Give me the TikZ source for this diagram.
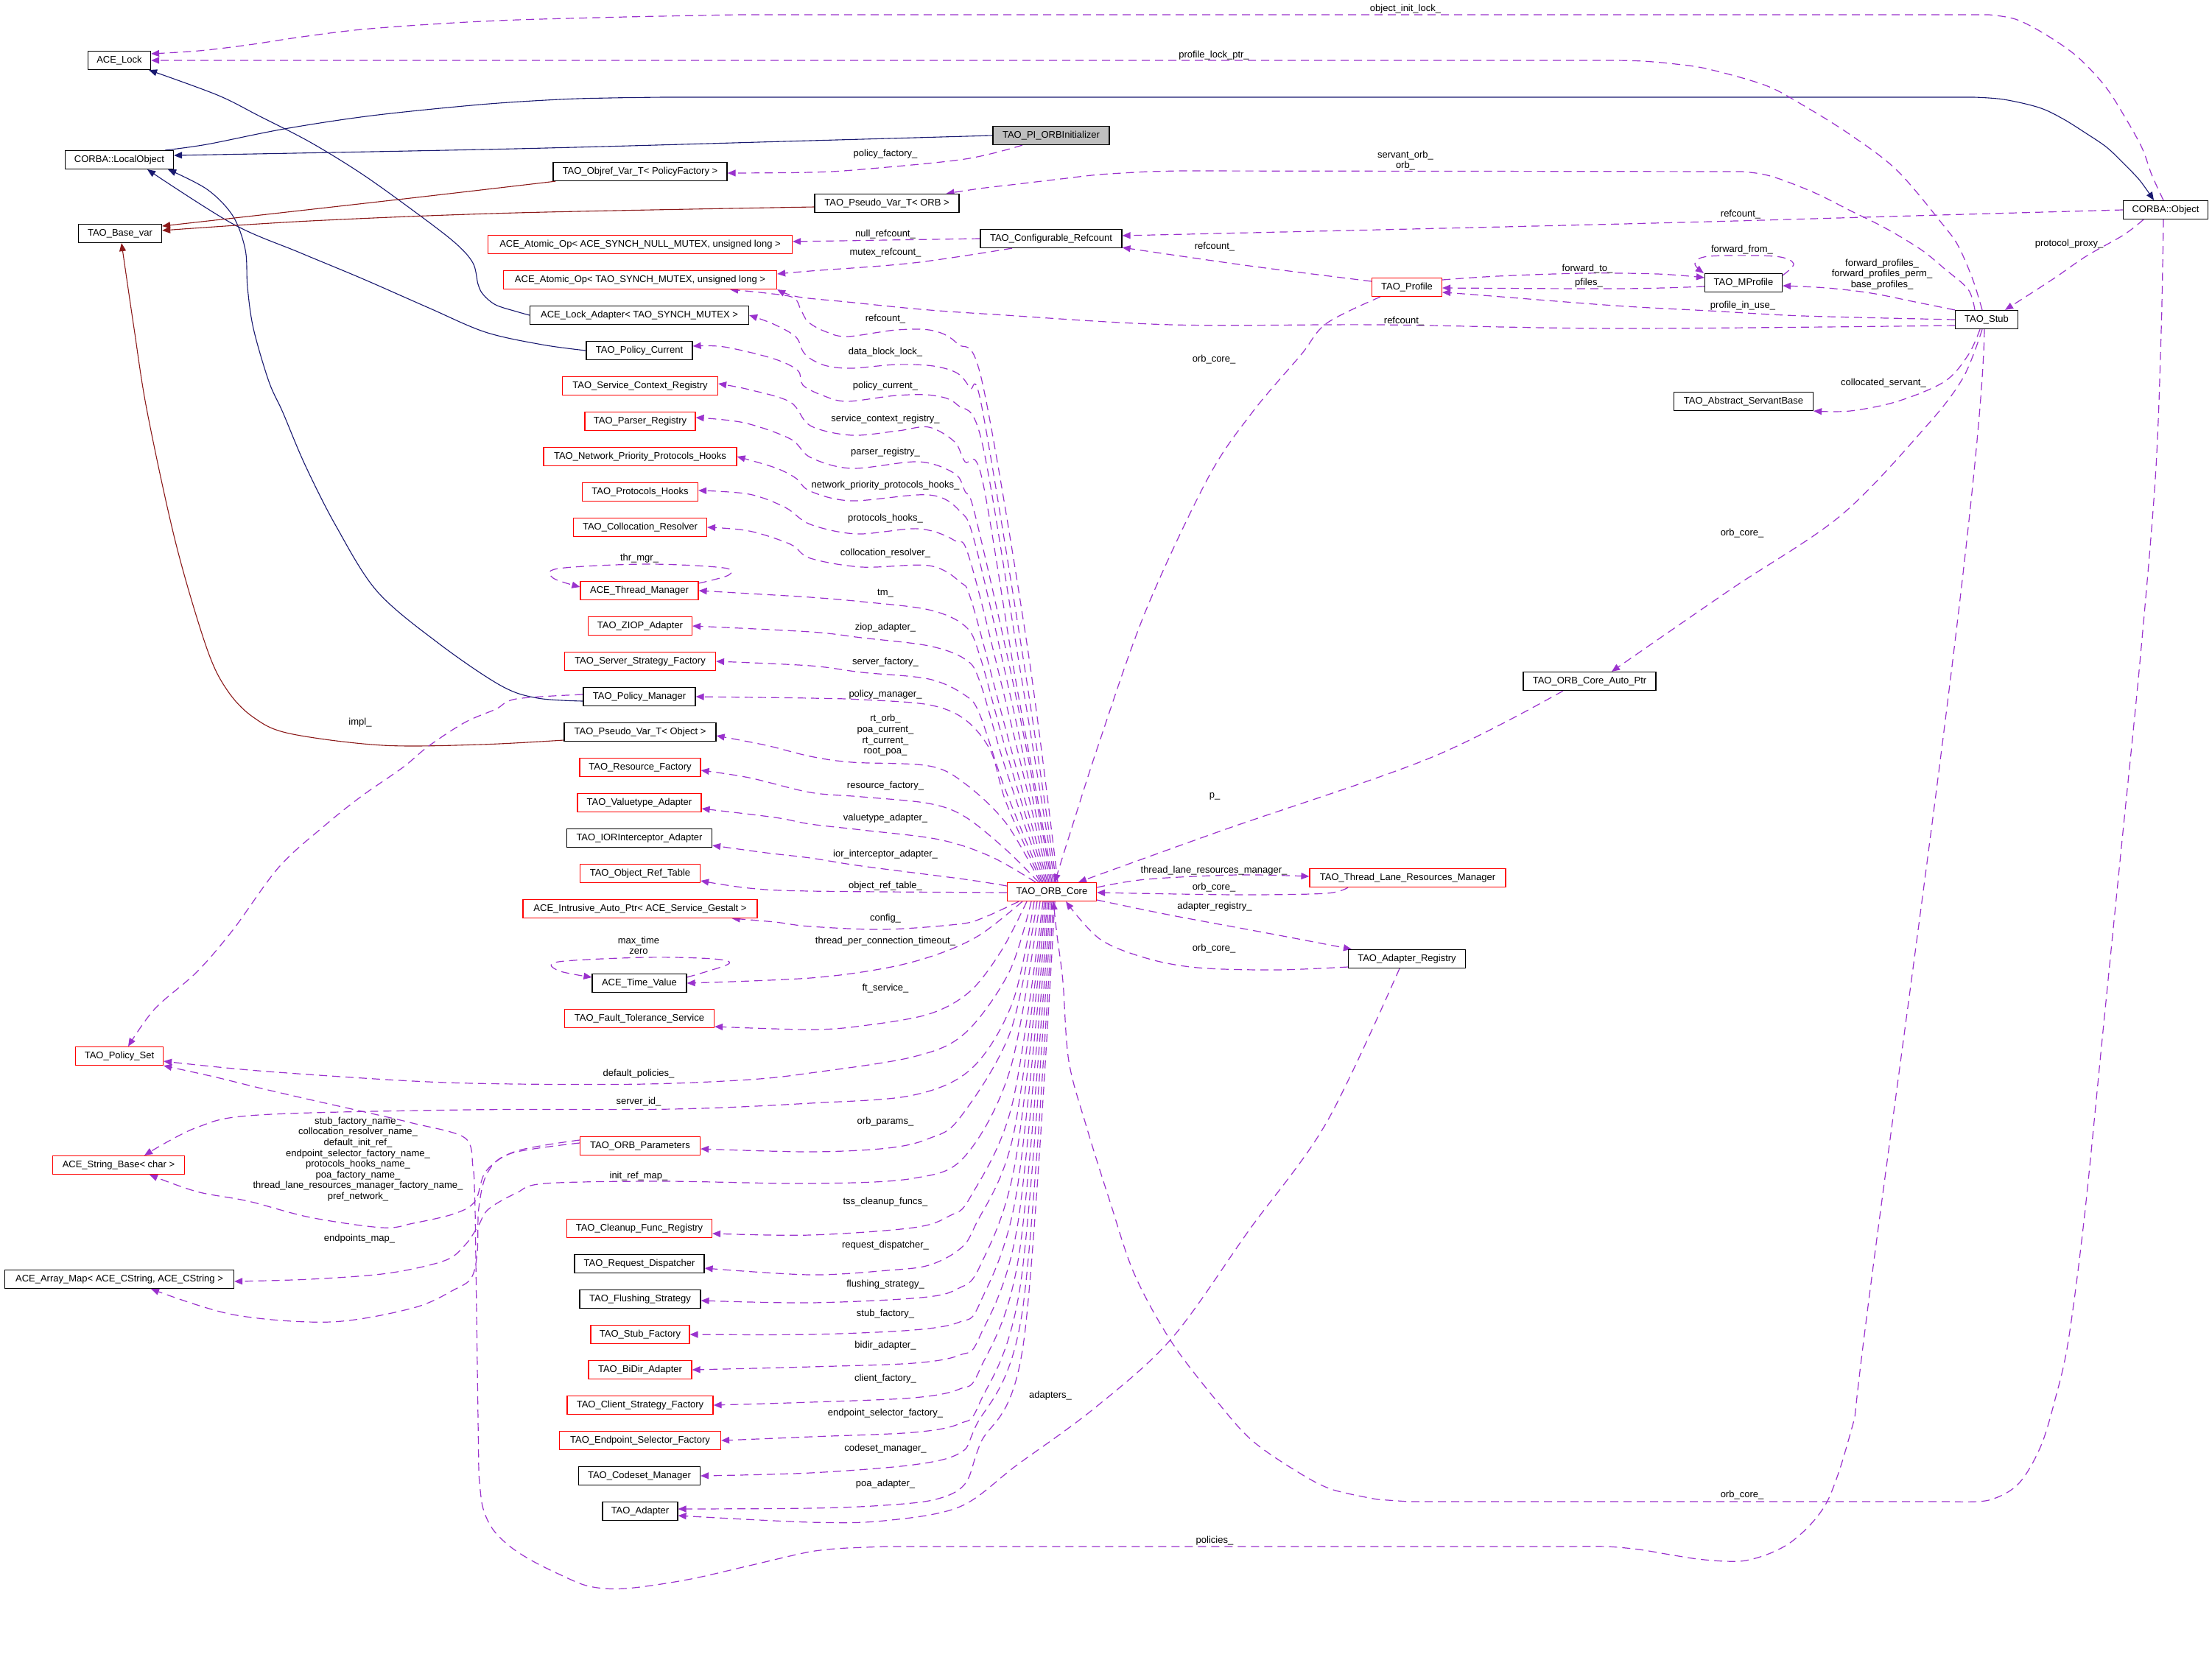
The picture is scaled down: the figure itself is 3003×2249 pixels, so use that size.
\documentclass[tikz,border=0pt]{standalone}
\usepackage{fontspec}
\newfontfamily\dxf{Liberation Sans}
\newcommand\dxs{\dxf\fontsize{13}{14.6}\selectfont}
\usetikzlibrary{arrows.meta}
\definecolor{dpurple}{HTML}{9A32CD}
\definecolor{dnavy}{HTML}{191970}
\definecolor{dred}{HTML}{8B1A1A}
\definecolor{dgray}{HTML}{BFBFBF}
\pgfdeclarelayer{bg}
\pgfsetlayers{bg,main}
\begin{document}
\begin{tikzpicture}[x=1pt,y=-1pt,
  cls/.style={draw=black, line width=1.2pt, minimum height=25pt, inner sep=0pt, font=\dxs, fill=white},
  rcls/.style={cls, draw=red},
  lab/.style={font=\dxs, inner sep=0pt, align=center},
  use/.style={draw=dpurple, line width=1.2pt, dash pattern=on 11pt off 7pt, -{Triangle[length=11pt,width=9pt]}},
  inh/.style={draw=dnavy, line width=1.1pt, -{Triangle[length=11pt,width=9pt]}},
  tpl/.style={draw=dred, line width=1.1pt, -{Triangle[length=11pt,width=9pt]}},
  sm/.style={smooth, tension=0.55}]
\useasboundingbox (0,0) rectangle (3003,2249);
% ---------- nodes ----------
\node[cls,minimum width=85pt] (lock) at (162,82) {ACE\_Lock};
\node[cls,minimum width=147pt] (localobj) at (162,217) {CORBA::LocalObject};
\node[cls,minimum width=113pt] (basevar) at (163,317) {TAO\_Base\_var};
\node[cls,minimum width=236pt] (objref) at (869,233) {TAO\_Objref\_Var\_T< PolicyFactory >};
\node[cls,minimum width=196pt] (pseudoorb) at (1204,276) {TAO\_Pseudo\_Var\_T< ORB >};
\node[rcls,minimum width=413pt] (nullop) at (869,332) {ACE\_Atomic\_Op< ACE\_SYNCH\_NULL\_MUTEX, unsigned long >};
\node[rcls,minimum width=371pt] (mutexop) at (869,380) {ACE\_Atomic\_Op< TAO\_SYNCH\_MUTEX, unsigned long >};
\node[cls,minimum width=297pt] (lockad) at (868,428) {ACE\_Lock\_Adapter< TAO\_SYNCH\_MUTEX >};
\node[cls,minimum width=144pt] (polcur) at (868,476) {TAO\_Policy\_Current};
\node[rcls,minimum width=211pt] (scr) at (869,524) {TAO\_Service\_Context\_Registry};
\node[rcls,minimum width=150pt] (parser) at (869,572) {TAO\_Parser\_Registry};
\node[rcls,minimum width=262pt] (nph) at (869,620) {TAO\_Network\_Priority\_Protocols\_Hooks};
\node[rcls,minimum width=157pt] (ph) at (869,668) {TAO\_Protocols\_Hooks};
\node[rcls,minimum width=181pt] (colres) at (869,716) {TAO\_Collocation\_Resolver};
\node[rcls,minimum width=160pt] (thrmgr) at (868,802) {ACE\_Thread\_Manager};
\node[rcls,minimum width=141pt] (ziop) at (869,850) {TAO\_ZIOP\_Adapter};
\node[rcls,minimum width=205pt] (ssf) at (869,898) {TAO\_Server\_Strategy\_Factory};
\node[cls,minimum width=152pt] (polmgr) at (868,946) {TAO\_Policy\_Manager};
\node[cls,minimum width=206pt] (pseudoobj) at (869,994) {TAO\_Pseudo\_Var\_T< Object >};
\node[rcls,minimum width=164pt] (resf) at (869,1042) {TAO\_Resource\_Factory};
\node[rcls,minimum width=168pt] (valt) at (868,1090) {TAO\_Valuetype\_Adapter};
\node[cls,minimum width=197pt] (ior) at (868,1138) {TAO\_IORInterceptor\_Adapter};
\node[rcls,minimum width=163pt] (ort) at (869,1186) {TAO\_Object\_Ref\_Table};
\node[rcls,minimum width=318pt] (iap) at (869,1234) {ACE\_Intrusive\_Auto\_Ptr< ACE\_Service\_Gestalt >};
\node[cls,minimum width=128pt] (tv) at (868,1335) {ACE\_Time\_Value};
\node[rcls,minimum width=203pt] (fts) at (868,1383) {TAO\_Fault\_Tolerance\_Service};
\node[rcls,minimum width=119pt] (polset) at (162,1434) {TAO\_Policy\_Set};
\node[rcls,minimum width=179pt] (strbase) at (161,1582) {ACE\_String\_Base< char >};
\node[rcls,minimum width=163pt] (orbparams) at (869,1556) {TAO\_ORB\_Parameters};
\node[rcls,minimum width=197pt] (cleanup) at (868,1668) {TAO\_Cleanup\_Func\_Registry};
\node[cls,minimum width=311pt] (arraymap) at (162,1737) {ACE\_Array\_Map< ACE\_CString, ACE\_CString >};
\node[cls,minimum width=176pt] (reqd) at (868,1716) {TAO\_Request\_Dispatcher};
\node[cls,minimum width=164pt] (flush) at (869,1764) {TAO\_Flushing\_Strategy};
\node[rcls,minimum width=134pt] (stubf) at (869,1812) {TAO\_Stub\_Factory};
\node[rcls,minimum width=140pt] (bidir) at (869,1860) {TAO\_BiDir\_Adapter};
\node[rcls,minimum width=198pt] (csf) at (869,1908) {TAO\_Client\_Strategy\_Factory};
\node[rcls,minimum width=219pt] (esf) at (869,1956) {TAO\_Endpoint\_Selector\_Factory};
\node[cls,minimum width=165pt] (codeset) at (868,2004) {TAO\_Codeset\_Manager};
\node[cls,minimum width=102pt] (adapter) at (869,2052) {TAO\_Adapter};
\node[cls,fill=dgray,minimum width=158pt] (pii) at (1427,184) {TAO\_PI\_ORBInitializer};
\node[cls,minimum width=192pt] (cref) at (1427,324) {TAO\_Configurable\_Refcount};
\node[rcls,minimum width=95pt] (profile) at (1910,390) {TAO\_Profile};
\node[cls,minimum width=105pt] (mprofile) at (2367,384) {TAO\_MProfile};
\node[cls,minimum width=115pt] (cobj) at (2940,285) {CORBA::Object};
\node[cls,minimum width=85pt] (stub) at (2697,434) {TAO\_Stub};
\node[cls,minimum width=189pt] (asb) at (2367,545) {TAO\_Abstract\_ServantBase};
\node[cls,minimum width=180pt] (autoptr) at (2158,925) {TAO\_ORB\_Core\_Auto\_Ptr};
\node[rcls,minimum width=121pt] (core) at (1428,1211) {TAO\_ORB\_Core};
\node[rcls,minimum width=266pt] (tlrm) at (1911,1192) {TAO\_Thread\_Lane\_Resources\_Manager};
\node[cls,minimum width=159pt] (areg) at (1910,1302) {TAO\_Adapter\_Registry};
% ---------- labels ----------
\node[lab] (t01) at (1908,12) {object\_init\_lock\_};
\node[lab] (t02) at (1648,75) {profile\_lock\_ptr\_};
\node[lab] (t03) at (1202,209) {policy\_factory\_};
\node[lab] (t04) at (1908,218) {servant\_orb\_\\orb\_};
\node[lab] (t05) at (2363,291) {refcount\_};
\node[lab] (t06) at (1202,318) {null\_refcount\_};
\node[lab] (t07) at (1202,343) {mutex\_refcount\_};
\node[lab] (t08) at (1649,335) {refcount\_};
\node[lab] (t09) at (2809,331) {protocol\_proxy\_};
\node[lab] (t10) at (2365,339) {forward\_from\_};
\node[lab] (t11) at (2155,365) {forward\_to\_};
\node[lab] (t12) at (2157,384) {pfiles\_};
\node[lab] (t13) at (2555,372.5) {forward\_profiles\_\\forward\_profiles\_perm\_\\base\_profiles\_};
\node[lab] (t14) at (2366,415) {profile\_in\_use\_};
\node[lab] (t15) at (1906,436) {refcount\_};
\node[lab] (t16) at (1202,433) {refcount\_};
\node[lab] (t17) at (1202,478) {data\_block\_lock\_};
\node[lab] (t18) at (1648,488) {orb\_core\_};
\node[lab] (t19) at (1202,524) {policy\_current\_};
\node[lab] (t20) at (2557,520) {collocated\_servant\_};
\node[lab] (t21) at (1202,569) {service\_context\_registry\_};
\node[lab] (t22) at (1202,614) {parser\_registry\_};
\node[lab] (t23) at (1202,659) {network\_priority\_protocols\_hooks\_};
\node[lab] (t24) at (1202,704) {protocols\_hooks\_};
\node[lab] (t25) at (2365,724) {orb\_core\_};
\node[lab] (t26) at (1202,751) {collocation\_resolver\_};
\node[lab] (t27) at (868,758) {thr\_mgr\_};
\node[lab] (t28) at (1202,806) {tm\_};
\node[lab] (t29) at (1202,852) {ziop\_adapter\_};
\node[lab] (t30) at (1202,899) {server\_factory\_};
\node[lab] (t31) at (1202,943) {policy\_manager\_};
\node[lab] (t32) at (1202,998.5) {rt\_orb\_\\poa\_current\_\\rt\_current\_\\root\_poa\_};
\node[lab] (t33) at (489,981) {impl\_};
\node[lab] (t34) at (1202,1067) {resource\_factory\_};
\node[lab] (t35) at (1649,1081) {p\_};
\node[lab] (t36) at (1202,1111) {valuetype\_adapter\_};
\node[lab] (t37) at (1202,1160) {ior\_interceptor\_adapter\_};
\node[lab] (t38) at (1648,1182) {thread\_lane\_resources\_manager\_};
\node[lab] (t39) at (1202,1203) {object\_ref\_table\_};
\node[lab] (t40) at (1648,1205) {orb\_core\_};
\node[lab] (t41) at (1649,1231) {adapter\_registry\_};
\node[lab] (t42) at (1202,1247) {config\_};
\node[lab] (t43) at (867,1284) {max\_time\\zero};
\node[lab] (t44) at (1202,1278) {thread\_per\_connection\_timeout\_};
\node[lab] (t45) at (1648,1288) {orb\_core\_};
\node[lab] (t46) at (1202,1342) {ft\_service\_};
\node[lab] (t47) at (867,1458) {default\_policies\_};
\node[lab] (t48) at (867,1496) {server\_id\_};
\node[lab] (t49) at (486,1574) {stub\_factory\_name\_\\collocation\_resolver\_name\_\\default\_init\_ref\_\\endpoint\_selector\_factory\_name\_\\protocols\_hooks\_name\_\\poa\_factory\_name\_\\thread\_lane\_resources\_manager\_factory\_name\_\\pref\_network\_};
\node[lab] (t50) at (1202,1523) {orb\_params\_};
\node[lab] (t51) at (867,1597) {init\_ref\_map\_};
\node[lab] (t52) at (1202,1632) {tss\_cleanup\_funcs\_};
\node[lab] (t53) at (488,1682) {endpoints\_map\_};
\node[lab] (t54) at (1202,1691) {request\_dispatcher\_};
\node[lab] (t55) at (1202,1744) {flushing\_strategy\_};
\node[lab] (t56) at (1202,1784) {stub\_factory\_};
\node[lab] (t57) at (1202,1827) {bidir\_adapter\_};
\node[lab] (t58) at (1202,1872) {client\_factory\_};
\node[lab] (t59) at (1426,1895) {adapters\_};
\node[lab] (t60) at (1202,1919) {endpoint\_selector\_factory\_};
\node[lab] (t61) at (1202,1967) {codeset\_manager\_};
\node[lab] (t62) at (1202,2015) {poa\_adapter\_};
\node[lab] (t63) at (2365,2030) {orb\_core\_};
\node[lab] (t64) at (1649,2092) {policies\_};
% ---------- edges ----------
\begin{pgfonlayer}{bg}
% inheritance
\draw[inh] plot[sm] coordinates {(pii.west) (1100,191) (700,202) ([yshift=6pt]localobj.east)};
\draw[inh] plot[sm] coordinates {([xshift=-12pt]localobj.north east) (281,196) (386,175) (505,157) (652,142) (760,135) (828,133) (900,132)} -- (2620,132) -- plot[sm] coordinates {(2680,132) (2720,135) (2768,146) (2800,161) (2832,181) (2860,200) (2883,222) (2905,245) ([xshift=-16pt]cobj.north)};
\draw[inh] plot[sm] coordinates {(lockad.west) (701,423) (673,414) (656,400) (649,386) (642,357) (617,329) (561,286) (491,236) (421,193) (351,157) (295,129) ([xshift=-3pt]lock.south east)};
\draw[inh] plot[sm] coordinates {(polcur.west) (736,468) (659,451) (582,418) (491,378) (407,343) (316,304) ([xshift=38pt]localobj.south)};
\draw[inh] plot[sm] coordinates {([yshift=-6pt]polmgr.west) (730,948) (680,931) (596,874) (512,803) (456,714) (414,631) (384,560) (365,518) (344,446) (336,390) (333,339) (316,293) (281,257) ([xshift=-8pt]localobj.south east)};
% template
\draw[tpl] plot[sm] coordinates {([xshift=4pt]objref.south west) (540,271) ([yshift=10pt]basevar.east)};
\draw[tpl] plot[sm] coordinates {([yshift=-5pt]pseudoorb.west) (701,289) (421,300) ([yshift=4pt]basevar.east)};
\draw[tpl] plot[sm] coordinates {([yshift=-11pt]pseudoobj.west) (652,1011) (519,1012) (393,996) (344,974) (309,938) (281,881) (239,739) (200,560) (182,446) ([xshift=2pt]basevar.south)};
% usage: top area
\draw[use] plot[sm] coordinates {([xshift=-3pt]cobj.north) (2921,237) (2908,201) (2883,156) (2857,116) (2819,76) (2774,45) (2736,26) (2700,20)} -- (1000,20) -- plot[sm] coordinates {(950,21) (850,23) (702,27) (600,32) (491,40) (410,50) (337,61) (270,69) ([yshift=9pt]lock.east)};
\draw[use] plot[sm] coordinates {([xshift=-6pt]stub.north) (2678,379) (2659,335) (2640,308) (2576,232) (2512,183) (2448,143) (2397,116) (2320,94) (2275,87) (2230,83) (2192,82)} -- (lock.east);
\draw[use] plot[sm] coordinates {([xshift=-39pt]pii.south) (1310,216) (1170,230) (1100,234) ([yshift=-2pt]objref.east)};
\draw[use] plot[sm] coordinates {([xshift=-16pt]stub.north) (2672,393) (2640,365) (2608,339) (2560,310) (2512,286) (2464,262) (2416,243) (2390,236) (2365,233)} -- (1600,232) -- plot[sm] coordinates {(1560,233) (1493,237) (1440,243) (1381,250) (1330,256) ([xshift=-18pt]pseudoorb.north east)};
\draw[use] plot[sm] coordinates {(cobj.west) (2633,292) (2320,301) (2000,309) ([yshift=4pt]cref.east)};
\draw[use] (cref.west) -- ([yshift=4pt]nullop.east);
\draw[use] plot[sm] coordinates {([xshift=-53pt]cref.south) (1240,357) (1100,368) ([yshift=8pt]mutexop.east)};
\draw[use] plot[sm] coordinates {([yshift=8pt]profile.west) (1696,361) ([yshift=1pt]cref.south east)};
\draw[use] plot[sm] coordinates {([yshift=10pt]profile.east) (2033,375) (2150,371) (2250,372) ([yshift=7pt]mprofile.west)};
\draw[use] plot[sm] coordinates {([yshift=-5pt]mprofile.west) (2200,392) ([yshift=-1pt]profile.east)};
\draw[use] plot[sm] coordinates {([yshift=-3pt]mprofile.north east) (2435,358) (2409,348) (2320,348) (2301,358) ([xshift=-1pt]mprofile.north west)};
\draw[use] plot[sm] coordinates {(stub.north west) (2600,410) (2540,398) (2480,391) ([yshift=-4pt]mprofile.east)};
\draw[use] plot[sm] coordinates {(stub.west) (2448,429) (2320,422) (2192,415) (2000,400) ([yshift=-7pt]profile.east)};
\draw[use] plot[sm] coordinates {([yshift=-8pt]stub.west) (2200,446) (1872,441) (1591,441) (1350,427) (1250,420) (1150,410) (1083,403) (mutexop.south east)};
\draw[use] plot[sm] coordinates {([xshift=-30pt]cobj.south) (2883,319) (2832,348) (2787,379) ([xshift=25pt]stub.north)};
\draw[use] plot[sm] coordinates {([xshift=-9pt]stub.south) (2672,482) (2640,518) (2576,545) (2512,558) (asb.south east)};
\draw[use] plot[sm] coordinates {([xshift=-6pt]stub.south) (2665,513) (2614,580) (2499,700) (2350,800) ([xshift=30pt]autoptr.north)};
\draw[use] plot[sm] coordinates {([xshift=-36pt]autoptr.south) (1942,1029) (1661,1127) ([xshift=36pt]core.north)};
\draw[use] plot[sm] coordinates {([xshift=12pt]profile.south west) (1801,439) (1766,482) (1700,560) (1640,649) (1556,828) (1493,1006) (1450,1140) ([xshift=4pt]core.north)};
\draw[use] plot[sm] coordinates {([yshift=6pt]core.east) (1556,1194) (1680,1188) ([yshift=2pt]tlrm.west)};
\draw[use] plot[sm] coordinates {([xshift=-81pt]tlrm.south) (1801,1213) (1700,1215) (1600,1214) ([yshift=-1pt]core.east)};
\draw[use] plot[sm] coordinates {([yshift=-11pt]core.east) (1591,1243) (1731,1269) ([xshift=5pt]areg.north west)};
\draw[use] plot[sm] coordinates {([yshift=-11pt]areg.west) (1731,1317) (1626,1314) (1556,1301) (1493,1275) ([xshift=19pt]core.south)};
\draw[use] plot[sm] coordinates {([xshift=-3pt]cobj.south) (2934,450) (2926,650) (2905,900) (2880,1150) (2855,1400) (2830,1650) (2808,1820) (2790,1900) (2770,1965) (2740,2015) (2700,2037) (2650,2039)} -- (1912,2039) -- plot[sm] coordinates {(1870,2036) (1807,2022) (1759,1997) (1701,1957) (1658,1910) (1591,1823) (1540,1730) (1507,1632) (1475,1530) (1451,1441) (1443,1333) (1435,1270) ([xshift=2pt]core.south)};
\draw[use] plot[sm] coordinates {([xshift=-10pt]areg.south) (1801,1524) (1696,1670) (1591,1817) (1486,1912) (1381,1989) (1303,2046) (1200,2065) (1100,2067) ([yshift=-6pt]adapter.east)};
\draw[use] ([xshift=-3pt]stub.south) .. controls (2690,700) and (2540,1700) .. (2518,1925) -- plot[sm] coordinates {(2511,1950) (2497,1997) (2480,2040) (2458,2070) (2430,2095) (2401,2110) (2370,2119) (2343,2120) (2305,2117) (2267,2111) (2225,2104) (2181,2100) (2130,2100)} -- (1200,2100) -- plot[sm] coordinates {(1150,2102) (1100,2107) (1017,2126) (933,2145) (849,2157) (800,2154) (760,2138) (720,2118) (690,2098) (668,2075) (655,2045) (650,2000)} -- (645,1640) -- plot[sm] coordinates {(644,1610) (642,1584) (631,1545) (560,1525) (491,1509) (420,1493) (351,1477) (290,1462) (polset.south east)};
\draw[use] plot[sm] coordinates {([yshift=3pt]polmgr.west) (701,949) (673,963) (631,981) (582,1013) (547,1042) (491,1081) (442,1120) (379,1177) (316,1263) (267,1320) (210,1370) ([xshift=12pt]polset.north)};
\draw[use] plot[sm] coordinates {([yshift=8pt]orbparams.west) (701,1563) (660,1590) (645,1631) (617,1648) (561,1661) (519,1667) (421,1653) (337,1631) (267,1618) ([xshift=42pt]strbase.south)};
\draw[use] plot[sm] coordinates {([yshift=4pt]orbparams.west) (694,1566) (662,1592) (650,1640) (648,1700) (640,1735) (617,1751) (561,1776) (449,1795) (316,1785) ([xshift=43pt]arraymap.south)};
% self loops
\draw[use] plot[sm] coordinates {([yshift=10pt]thrmgr.east) (989,781) (982,771) (877,766) (758,772) (751,785) ([yshift=5pt]thrmgr.west)};
\draw[use] plot[sm] coordinates {([yshift=8pt]tv.east) (989,1309) (968,1302) (877,1300) (758,1306) (758,1318) ([yshift=8pt]tv.west)};
% ORB core fan, upper
\draw[use] plot[sm] coordinates {([xshift=8pt]core.north) (1395,880) (1333,517) (1300,467) (1267,449) (1217,448) (1150,457) (1120,450) (1097,437) (1087,420) (1077,404) (1040,398) ([xshift=-64pt]mutexop.south east)};
\draw[use] plot[sm] coordinates {([xshift=6pt]core.north) (1390,900) (1333,553) (1317,527) (1300,507) (1267,497) (1217,495) (1157,500) (1123,497) (1100,487) (1090,477) (1080,457) (1050,440) (lockad.east)};
\draw[use] plot[sm] coordinates {([xshift=4pt]core.north) (1385,910) (1333,600) (1300,550) (1267,537) (1217,537) (1150,545) (1117,537) (1090,523) (1083,503) (1050,487) (983,471) ([yshift=6pt]polcur.east)};
\draw[use] plot[sm] coordinates {([xshift=2pt]core.north) (1380,930) (1333,649) (1310,627) (1296,600) (1261,580) (1219,585) (1156,591) (1100,578) (1073,546) (1017,529) ([yshift=3pt]scr.east)};
\draw[use] plot[sm] coordinates {(core.north) (1378,940) (1324,700) (1310,667) (1296,643) (1247,627) (1156,636) (1100,621) (1073,596) (1010,574) ([yshift=5pt]parser.east)};
\draw[use] plot[sm] coordinates {([xshift=-2pt]core.north) (1375,960) (1324,739) (1303,694) (1261,672) (1156,680) (1100,667) (1080,649) (1052,635) (nph.east)};
\draw[use] plot[sm] coordinates {([xshift=-4pt]core.north) (1372,980) (1317,761) (1296,734) (1247,718) (1163,725) (1100,712) (1066,689) (1017,671) ([yshift=2pt]ph.east)};
\draw[use] plot[sm] coordinates {([xshift=-6pt]core.north) (1368,1000) (1320,820) (1303,790) (1261,768) (1170,770) (1100,758) (1073,739) (1017,721) (colres.east)};
\draw[use] plot[sm] coordinates {([xshift=-8pt]core.north) (1366,1020) (1330,890) (1310,850) (1261,828) (1170,817) (1100,811) (1017,806) (thrmgr.east)};
\draw[use] plot[sm] coordinates {([xshift=-10pt]core.north) (1364,1040) (1330,925) (1310,895) (1261,877) (1170,866) (1100,858) (ziop.east)};
\draw[use] plot[sm] coordinates {([xshift=-12pt]core.north) (1364,1070) (1330,970) (1310,944) (1261,922) (1170,913) (1100,904) (ssf.east)};
\draw[use] plot[sm] coordinates {([xshift=-14pt]core.north) (1366,1090) (1345,1020) (1310,977) (1261,957) (1170,950) (1100,948) (polmgr.east)};
\draw[use] plot[sm] coordinates {([xshift=-16pt]core.north) (1366,1118) (1310,1064) (1261,1040) (1156,1035) (1100,1027) (1040,1012) ([yshift=-5pt]pseudoobj.east)};
\draw[use] plot[sm] coordinates {([xshift=-18pt]core.north) (1366,1154) (1310,1109) (1261,1091) (1170,1082) (1100,1076) (1017,1056) ([yshift=-4pt]resf.east)};
\draw[use] plot[sm] coordinates {([xshift=-22pt]core.north) (1345,1163) (1275,1140) (1170,1127) (1100,1119) (1052,1110) ([yshift=-8pt]valt.east)};
\draw[use] plot[sm] coordinates {([yshift=8pt]core.west) (1310,1194) (1170,1176) (1100,1165) (1040,1158) ([yshift=-10pt]ior.east)};
\draw[use] plot[sm] coordinates {([yshift=-1pt]core.west) (1100,1210) (1017,1206) ([yshift=-10pt]ort.east)};
\draw[use] plot[sm] coordinates {([xshift=-45pt]core.south) (1333,1247) (1300,1255) (1200,1262) (1100,1258) (1052,1252) ([xshift=-35pt]iap.south east)};
% ORB core fan, lower
\draw[use] plot[sm] coordinates {([xshift=-40pt]core.south) (1331,1269) (1275,1295) (1205,1314) (1100,1328) (tv.east)};
\draw[use] plot[sm] coordinates {([xshift=-34pt]core.south) (1360,1290) (1317,1346) (1261,1377) (1170,1393) (1100,1398) ([yshift=-11pt]fts.east)};
\draw[use] plot[sm] coordinates {([xshift=-28pt]core.south) (1370,1320) (1310,1403) (1240,1435) (1100,1457) (1017,1466) (877,1472) (701,1472) (561,1468) (351,1454) ([yshift=-7pt]polset.east)};
\draw[use] plot[sm] coordinates {([xshift=-24pt]core.south) (1375,1360) (1320,1450) (1240,1487) (1100,1498) (912,1506) (631,1507) (351,1514) (267,1531) ([xshift=35pt]strbase.north)};
\draw[use] plot[sm] coordinates {([xshift=-20pt]core.south) (1372,1400) (1303,1518) (1261,1546) (1205,1559) (1100,1564) ([yshift=-4pt]orbparams.east)};
\draw[use] plot[sm] coordinates {([xshift=-16pt]core.south) (1372,1450) (1310,1570) (1240,1600) (1100,1607) (900,1604) (740,1607) (701,1620) (663,1642) (649,1665) (631,1691) (603,1712) (526,1729) (421,1737) ([yshift=-3pt]arraymap.east)};
\draw[use] plot[sm] coordinates {([xshift=-12pt]core.south) (1374,1500) (1317,1626) (1289,1651) (1240,1667) (1100,1677) ([yshift=-7pt]cleanup.east)};
\draw[use] plot[sm] coordinates {([xshift=-10pt]core.south) (1376,1540) (1324,1664) (1303,1696) (1261,1718) (1205,1725) (1100,1731) ([yshift=-6pt]reqd.east)};
\draw[use] plot[sm] coordinates {([xshift=-8pt]core.south) (1378,1580) (1330,1720) (1300,1750) (1250,1762) (1100,1769) ([yshift=-2pt]flush.east)};
\draw[use] plot[sm] coordinates {([xshift=-6pt]core.south) (1380,1620) (1330,1770) (1303,1795) (1240,1806) (1100,1812) (stubf.east)};
\draw[use] plot[sm] coordinates {([xshift=-4pt]core.south) (1382,1660) (1330,1815) (1303,1840) (1240,1851) (1100,1856) (bidir.east)};
\draw[use] plot[sm] coordinates {([xshift=-2pt]core.south) (1384,1700) (1330,1860) (1303,1886) (1240,1898) (1100,1904) (csf.east)};
\draw[use] plot[sm] coordinates {(core.south) (1386,1740) (1330,1905) (1303,1933) (1240,1945) (1100,1951) (esf.east)};
\draw[use] plot[sm] coordinates {([xshift=2pt]core.south) (1388,1780) (1324,1938) (1303,1973) (1240,1989) (1100,2000) (codeset.east)};
\draw[use] plot[sm] coordinates {([xshift=4pt]core.south) (1390,1820) (1331,1960) (1310,2015) (1270,2036) (1200,2044) (1100,2048) ([yshift=3pt]adapter.east)};
\end{pgfonlayer}
\end{tikzpicture}
\end{document}
